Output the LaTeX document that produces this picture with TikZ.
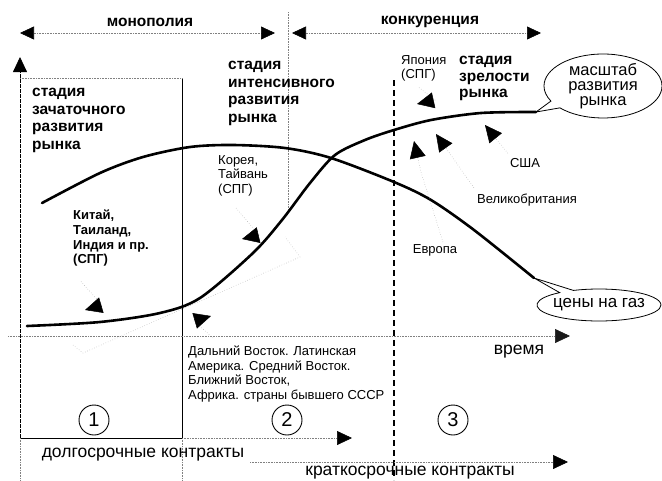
\documentclass[tikz,border=0pt]{standalone}
\usepackage{fontspec}
\setmainfont{Liberation Sans}
\usetikzlibrary{arrows.meta,shapes.callouts}

\begin{document}
\begin{tikzpicture}[x=1pt,y=-1pt,>={Triangle[length=17pt,width=16pt,color=black]},
    head/.style={font=\bfseries\fontsize{15.5}{17.7}\selectfont,inner sep=0pt},
    stage/.style={head,align=left,anchor=north west},
    country/.style={font=\fontsize{13}{14.5}\selectfont,align=left,inner sep=0pt},
    big/.style={font=\fontsize{17.5}{15}\selectfont,inner sep=0pt},
    guide/.style={gray,densely dotted,line width=0.6pt},
    leader/.style={gray!70,dotted,line width=0.5pt},
    curve/.style={line width=2.6pt,line cap=round},
    bubble/.style={ellipse callout,draw,line width=0.8pt,align=center,inner xsep=-20pt,inner ysep=-5pt},
    num/.style={circle,draw,line width=0.9pt,minimum size=30pt,inner sep=0pt,font=\fontsize{20}{20}\selectfont}]
\useasboundingbox (0,0) rectangle (662,480);

% periods at the top
\node[head] (mono) at (150,22) {монополия};
\node[head] (konk) at (430,22) {конкуренция};
\coordinate (monoL) at (20,33);
\coordinate (monoR) at (275,33);
\coordinate (konkL) at (292,33);
\coordinate (konkR) at (541,33);
\draw[guide,{Triangle[length=14pt,width=13pt,color=black]}-{Triangle[length=14pt,width=13pt,color=black]}] (monoL) -- (monoR);
\draw[guide,{Triangle[length=14pt,width=13pt,color=black]}-{Triangle[length=14pt,width=13pt,color=black]}] (konkL) -- (konkR);
\draw[guide] (288,12) -- (288,212);

% axes and first stage box
\coordinate (orig) at (20,438);
\coordinate (yTip) at (20,57);
\coordinate (timeStart) at (8,336);
\coordinate (timeEnd) at (570,336);
\draw[line width=0.8pt,dash pattern=on 4pt off 1pt,-{Triangle[length=15pt,width=14pt]}] (orig) -- (yTip);
\draw[line width=0.8pt] (orig) -- (182,438) -- (182,78);
\draw[guide] (20,78) -- (182,78);
\draw[guide] (orig) -- (20,480);
\draw[guide] (182,438) -- (182,480);
\draw[guide,-{Triangle[length=15pt,width=14pt,color=black!90]}] (timeStart) -- (timeEnd);
\node[big] (vremya) at (519,352) {время};
\draw[line width=1.5pt,dash pattern=on 6pt off 4pt] (394,80) -- (394,480);

% contracts
\draw[guide,-{Triangle[length=15pt,width=14pt,color=black]}] (182,438) -- (352,438);
\draw[guide,-{Triangle[length=15pt,width=14pt,color=black]}] (250,462) -- (568,462);
\node[big] (dolg) at (143,455) {долгосрочные контракты};
\node[big] (krat) at (410,473) {краткосрочные контракты};

% stages
\node[stage] (st1) at (32,88) {стадия\\зачаточного\\развития\\рынка};
\node[stage] (st2) at (228,61) {стадия\\интенсивного\\развития\\рынка};
\node[stage,font=\bfseries\fontsize{15.5}{16.5}\selectfont] (st3) at (459,56) {стадия\\зрелости\\рынка};
\node[num] (n1) at (94,420) {1};
\node[num] (n2) at (287,420) {2};
\node[num] (n3) at (453,420) {3};

% curves
\coordinate (scaleEnd) at (536,112);
\coordinate (priceEnd) at (534,278);
\draw[curve] plot[smooth] coordinates {(27,326) (100,322) (160,313) (200,298) (253,253) (282,220) (310,183) (335,155) (365,140) (394,130) (431,120) (481,113) (scaleEnd)};
\draw[curve] plot[smooth] coordinates {(42,203) (100,173) (143,157) (190,147) (233,145) (285,148) (331,158) (394,182) (431,200) (474,230) (priceEnd)};
\node[bubble,font=\fontsize{16.5}{15}\selectfont,minimum width=118pt,minimum height=64pt,
  callout absolute pointer=(scaleEnd)] (scale) at (603,86) {масштаб\\развития\\рынка};
\node[bubble,font=\fontsize{17}{17}\selectfont,minimum width=124pt,minimum height=32pt,
  callout absolute pointer=(priceEnd)] (price) at (599,305) {цены на газ};

% countries
\node[country,font=\bfseries\fontsize{13}{14.6}\selectfont,anchor=north west] (kitaj) at (73,210) {Китай,\\Таиланд,\\Индия и пр.\\(СПГ)};
\node[country,anchor=north west] (korea) at (218,155) {Корея,\\Тайвань\\(СПГ)};
\node[country,anchor=north west] (japan) at (401,55) {Япония\\(СПГ)};
\node[country] (usa) at (525,163) {США};
\node[country] (uk) at (527,200) {Великобритания};
\node[country] (europe) at (435,250) {Европа};
\node[country,anchor=north west] (dv) at (188,346) {Дальний Восток. Латинская\\Америка. Средний Восток.\\Ближний Восток,\\Африка. страны бывшего СССР};

\draw[leader] (73,345) -- (83,353) -- (300,257) -- (285,237);
\draw[leader,->] ([shift={(8,15)}]kitaj.south west) -- (102,305) -- (85,310);
\draw[leader,->] ([shift={(18,12)}]korea.south west) -- (259,235) -- (242,239);
\draw[leader,->] ([shift={(18,6)}]japan.south west) -- (435,100) -- (417,104);
\draw[leader,->] ([shift={(8,-2)}]europe.north) -- (421,172) -- (414,141);
\draw[leader,->] ([shift={(-3,-6)}]uk.north west) -- (436,134);
\draw[leader,->] ([shift={(-2,-5)}]usa.north west) -- (485,125);
\draw[leader,->] ([shift={(25,-8)}]dv.north west) -- (194,321) -- (211,316);
\end{tikzpicture}
\end{document}
